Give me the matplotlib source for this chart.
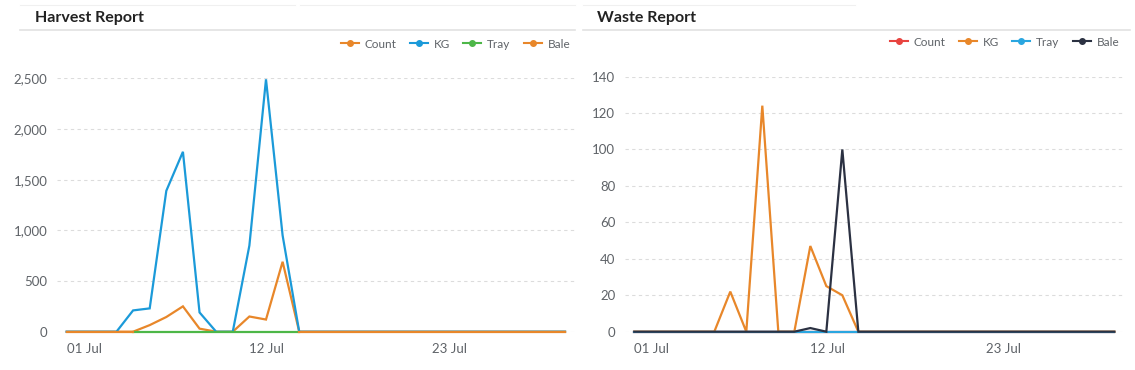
import numpy as np
import matplotlib
matplotlib.use("Agg")
import matplotlib.pyplot as plt
from matplotlib.lines import Line2D
from matplotlib.ticker import FuncFormatter

plt.rcParams['font.family'] = ['Lato', 'DejaVu Sans']

# ---------------- data ----------------
days = list(range(31))
xtick_days = [0, 11, 22]
xtick_labels = ["01 Jul", "12 Jul", "23 Jul"]
nan = np.nan

harvest_series = ["Count", "KG", "Tray", "Bale"]
h_count = [0, 0, 0, 0, 0, 65, 145, 250, 30, 0, 0, 150, 120, 690, 0] + [0] * 16
h_kg = [0, 0, 0, 0, 210, 230, 1390, 1775, 190, 0, 0, 850, 2490, 950, 0] + [0] * 16
h_tray = [nan] * 4 + [0] * 11 + [nan] * 16
h_bale = [0] * 5 + [nan] * 9 + [0] * 17
harvest_yticks = [0, 500, 1000, 1500, 2000, 2500]

waste_series = ["Count", "KG", "Tray", "Bale"]
w_count = [0] * 31
w_kg = [0, 0, 0, 0, 0, 0, 22, 0, 124, 0, 0, 47, 25, 20, 0] + [0] * 16
w_tray = [0] * 31
w_bale = [0] * 11 + [2, 0, 100] + [0] * 17
waste_yticks = [0, 20, 40, 60, 80, 100, 120, 140]

# ---------------- style ----------------
ORANGE = '#E8872A'
BLUE = '#1B9AD9'
GREEN = '#4DB748'
RED = '#E8433F'
NAVY = '#2B3142'
LBLUE = '#2AA6E0'
TXT = '#5f6368'

W, H = 1135, 370
fig = plt.figure(figsize=(W / 100, H / 100), dpi=100)
fig.patch.set_facecolor('white')


def px_axes(x0, y0, x1, y1):
    return fig.add_axes([x0 / W, 1 - y1 / H, (x1 - x0) / W, (y1 - y0) / H])


def hline(x0, x1, y, color, lw=1.0):
    fig.add_artist(Line2D([x0 / W, x1 / W], [1 - y / H, 1 - y / H],
                          color=color, lw=lw, transform=fig.transFigure))


def panel(ax, series, names, colors, yticks, ymax):
    for vals, name, c in zip(series, names, colors):
        ax.plot(days, vals, color=c, lw=1.6, label=name, clip_on=False,
                solid_joinstyle='miter', zorder=3)
    ax.set_xlim(-0.58, 30.6)
    ax.set_ylim(0, ymax)
    ax.set_yticks(yticks)
    ax.yaxis.set_major_formatter(FuncFormatter(lambda v, p: f"{int(v):,}"))
    ax.set_xticks(xtick_days)
    ax.set_xticklabels(xtick_labels)
    for lab in ax.get_xticklabels():
        lab.set_horizontalalignment('left')
    ax.tick_params(axis='both', length=0, labelsize=9.5, colors=TXT)
    ax.tick_params(axis='x', pad=8)
    ax.tick_params(axis='y', pad=7)
    for s in ax.spines.values():
        s.set_visible(False)
    ax.grid(axis='y', color='#dcdcdc', ls=(0, (3, 3)), lw=0.8)
    ax.set_axisbelow(True)
    ax.patch.set_alpha(0)
    handles = [Line2D([], [], color=c, lw=1.5, marker='o', ms=4) for c in colors]
    ax.legend(handles, names, loc='lower right', bbox_to_anchor=(1.0, 1.095),
              ncol=4, frameon=False, fontsize=8.5, handlelength=1.5,
              handletextpad=0.5, columnspacing=1.15, labelcolor=TXT,
              borderaxespad=0)


# Harvest panel
ax1 = px_axes(57, 78.3, 575, 331.7)
panel(ax1, [h_count, h_kg, h_tray, h_bale], harvest_series,
      [ORANGE, BLUE, GREEN, ORANGE], harvest_yticks, 2500)

# Waste panel
ax2 = px_axes(625, 76.5, 1124, 331.7)
panel(ax2, [w_count, w_kg, w_tray, w_bale], waste_series,
      [RED, ORANGE, LBLUE, NAVY], waste_yticks, 140)

# titles and decorative rules
fig.text(35 / W, 1 - 18 / H, "Harvest Report", fontsize=11.5, fontweight='bold',
         color='#222222', va='center', ha='left')
fig.text(597 / W, 1 - 18 / H, "Waste Report", fontsize=11.5, fontweight='bold',
         color='#222222', va='center', ha='left')
hline(20, 575, 30, '#e2e2e2', 1.2)
hline(583, 1130, 30, '#e2e2e2', 1.2)
hline(20, 295, 5, '#f0f0f0', 0.8)
hline(300, 575, 5, '#f0f0f0', 0.8)
hline(583, 855, 5, '#f0f0f0', 0.8)

fig.savefig("out.png", dpi=100, facecolor='white')
